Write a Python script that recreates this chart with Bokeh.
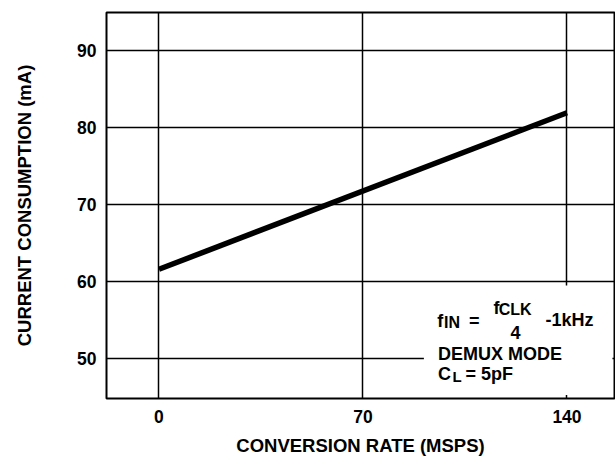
from bokeh.plotting import figure
from bokeh.models import Range1d, FixedTicker, Label, BoxAnnotation
from bokeh.embed import file_html
from bokeh.resources import INLINE

# data
rate = [0, 140]
current = [61.6, 81.9]
x_ticks = [0, 70, 140]
y_ticks = [50, 60, 70, 80, 90]
x_title = "CONVERSION RATE (MSPS)"
y_title = "CURRENT CONSUMPTION (mA)"

FONT = "Liberation Sans"

p = figure(frame_width=508, frame_height=386, output_backend="svg", toolbar_location=None,
           x_range=Range1d(-18, 156.3), y_range=Range1d(44.84, 94.9),
           min_border_left=106, min_border_right=1, min_border_top=12, min_border_bottom=56)
p.background_fill_color = "white"
p.border_fill_color = "white"
p.outline_line_color = "black"
p.outline_line_width = 2

for ax in (p.xaxis[0], p.yaxis[0]):
    ax.axis_line_color = None
    ax.major_tick_line_color = None
    ax.minor_tick_line_color = None
    ax.major_tick_in = 0
    ax.major_tick_out = 0
    ax.major_label_text_font = FONT
    ax.major_label_text_font_style = "bold"
    ax.major_label_text_font_size = "17.5px"
    ax.major_label_text_color = "black"
    ax.axis_label_text_font = FONT
    ax.axis_label_text_font_style = "bold"
    ax.axis_label_text_font_size = "18.5px"
    ax.axis_label_text_color = "black"

p.xaxis.ticker = FixedTicker(ticks=x_ticks)
p.yaxis.ticker = FixedTicker(ticks=y_ticks)
p.xaxis.axis_label = x_title
p.yaxis.axis_label = y_title
p.xaxis.major_label_standoff = 11
p.yaxis.major_label_standoff = 10
p.xaxis.axis_label_standoff = 9
p.yaxis.axis_label_standoff = 39

p.xgrid.grid_line_color = "black"
p.ygrid.grid_line_color = "black"
p.xgrid.grid_line_width = 1.5
p.ygrid.grid_line_width = 1.5

p.line(rate, current, line_color="black", line_width=5.5)

# annotation box
p.add_layout(BoxAnnotation(left=90.9, right=155.6, bottom=45.3, top=59.5,
                           fill_color="white", fill_alpha=1.0, line_color=None))

def lab(x, y, t, size="18px", align="left"):
    p.add_layout(Label(x=x, y=y, text=t, text_font=FONT, text_font_style="bold",
                       text_font_size=size, text_color="black", text_align=align,
                       text_baseline="alphabetic"))

lab(95.5, 54.94, "f")
lab(97.8, 54.64, "IN", "16px")
lab(106.4, 54.94, "=")
lab(114.8, 56.53, "f")
lab(116.6, 56.36, "CLK", "16px")
lab(122.3, 53.34, "4", align="center")
lab(132.6, 55.06, "-1kHz")
lab(95.7, 50.61, "DEMUX MODE")
lab(95.7, 48.01, "C")
lab(100.7, 47.70, "L", "15px")
lab(105.2, 48.01, "= 5pF")

# fraction bar
p.segment(x0=[114.6], y0=[55.71], x1=[129.4], y1=[55.71], line_color="black", line_width=1.5)

open("out.html", "w").write(file_html(p, INLINE))
